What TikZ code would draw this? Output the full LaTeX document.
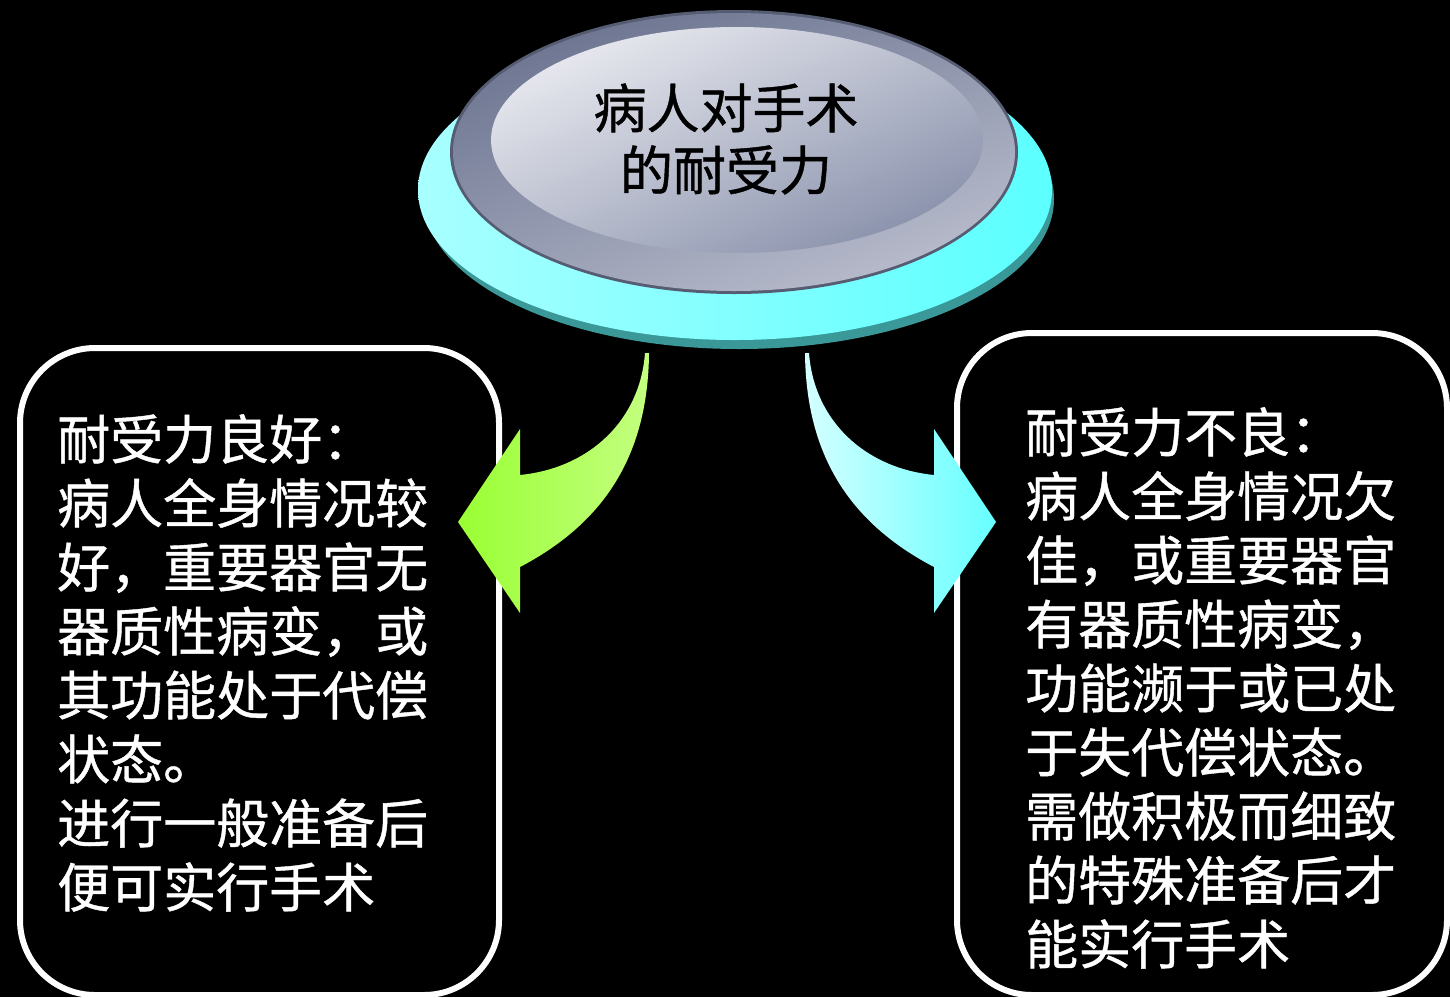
\documentclass[tikz,border=0pt]{standalone}
\usepackage{fontspec}
\newfontfamily\cjk[FakeBold=0.8]{Noto Sans CJK SC}
\definecolor{cyanL}{HTML}{A8FFFF}
\definecolor{cyanR}{HTML}{5CFFFF}
\definecolor{tealedge}{HTML}{3A9898}
\definecolor{rimdark}{HTML}{6C7490}
\definecolor{rimlight}{HTML}{B8BCCC}
\definecolor{facelight}{HTML}{E8E9EF}
\definecolor{facedark}{HTML}{8A92AC}
\definecolor{greenL}{HTML}{99FF33}
\definecolor{greenR}{HTML}{C4FF80}
\definecolor{cyanAL}{HTML}{D4FFFF}
\definecolor{cyanAR}{HTML}{66FFFF}
\tikzset{
  boxframe/.style={draw=white, line width=6bp, rounded corners=75bp, fill=black},
  boxtext/.style={text=white, align=left, inner sep=0pt, anchor=north west,
    font=\cjk\fontsize{53bp}{64bp}\selectfont},
  toptext/.style={text=black, align=center, inner sep=0pt,
    font=\cjk\fontsize{53bp}{62bp}\selectfont},
}
\begin{document}
\begin{tikzpicture}[x=1bp,y=-1bp]
\fill[black] (0,0) rectangle (1450,997);
\useasboundingbox (0,0) rectangle (1450,997);

% cyan base disc
\fill[tealedge] (739,199) ellipse [x radius=315, y radius=150];
\shade[left color=cyanL, right color=cyanR] (735,190) ellipse [x radius=317, y radius=150];

% gray button
\fill[rimdark!80!black] (734,152) ellipse [x radius=284, y radius=142];
\shade[top color=rimdark, bottom color=rimlight, shading angle=20] (734,152) ellipse [x radius=281, y radius=139];
\shade[top color=facelight, bottom color=facedark, shading angle=25] (737,140) ellipse [x radius=246, y radius=113];

\node[toptext] (top) at (726,139) {病人对手术\\的耐受力};

% boxes
\node[boxframe, minimum width=479bp, minimum height=647bp, anchor=north west] (leftbox) at (17,345) {};
\node[boxframe, minimum width=490bp, minimum height=662bp, anchor=north west] (rightbox) at (954,330) {};

\node[boxtext] (lefttext) at (57,414) {耐受力良好：\\病人全身情况较\\好，重要器官无\\器质性病变，或\\其功能处于代偿\\状态。\\进行一般准备后\\便可实行手术};
\node[boxtext] (righttext) at (1025,407) {耐受力不良：\\病人全身情况欠\\佳，或重要器官\\有器质性病变，\\功能濒于或已处\\于失代偿状态。\\需做积极而细致\\的特殊准备后才\\能实行手术};

% curved arrows
\coordinate (ltail) at (645,353);
\coordinate (rtail) at (809,353);
\shade[left color=greenL, right color=greenR]
  (ltail) .. controls (640,420) and (590,468) .. (520,475) -- (520,429) -- (458,522)
  -- (520,613) -- (520,567) .. controls (600,525) and (648,460) .. (649,353) -- cycle;
\shade[left color=cyanAL, right color=cyanAR]
  (rtail) .. controls (814,420) and (864,468) .. (934,475) -- (934,429) -- (996,522)
  -- (934,613) -- (934,567) .. controls (854,525) and (806,460) .. (805,353) -- cycle;
\end{tikzpicture}
\end{document}
